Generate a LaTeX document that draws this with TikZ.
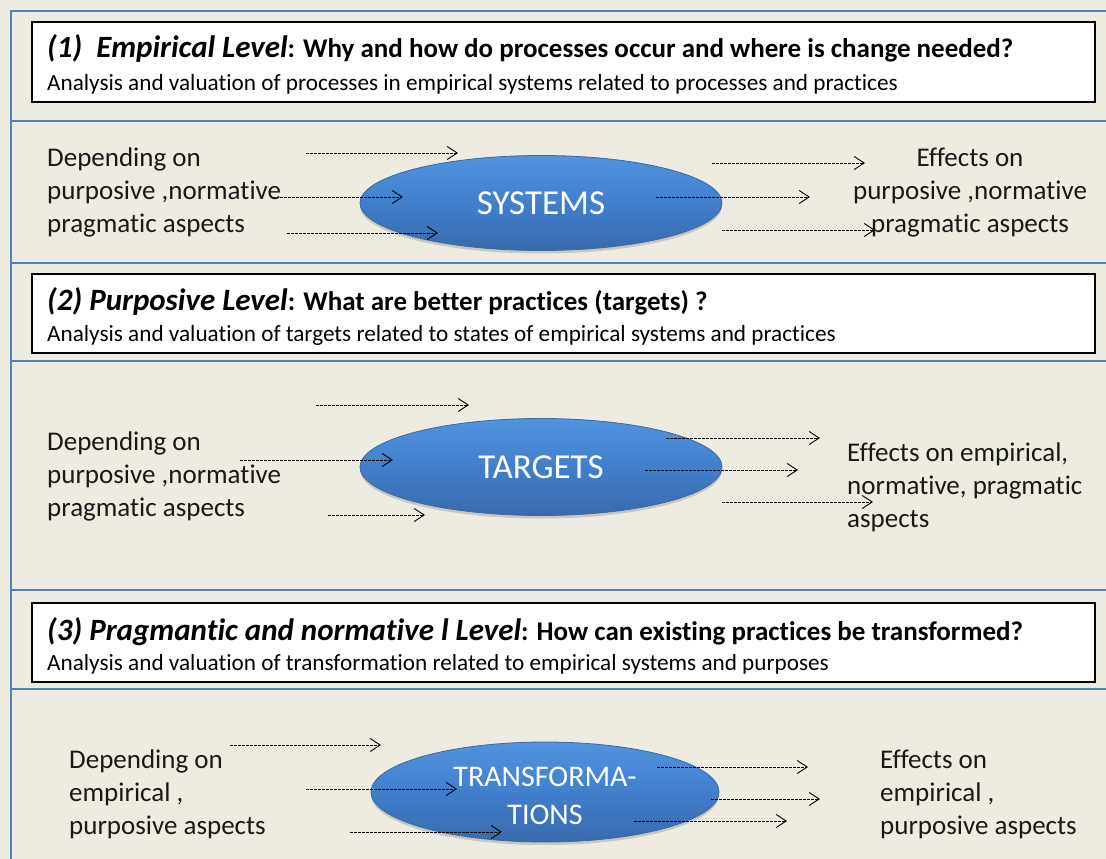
\documentclass[tikz,border=0pt]{standalone}
\usepackage{fontspec}
\setmainfont[Ligatures=NoCommon]{Carlito}
\usetikzlibrary{arrows.meta,shadows,shapes.geometric}

\definecolor{paper}{HTML}{EEECE1}
\definecolor{ruleblue}{HTML}{4F81BD}
\definecolor{ovaltop}{HTML}{5193DE}
\definecolor{ovalmid}{HTML}{417FCC}
\definecolor{ovalbot}{HTML}{386AAC}
\definecolor{ovaledge}{HTML}{3A68A8}

% italic level name at the start of each heading
\newcommand\levelname[1]{{\fontsize{31}{32}\selectfont\itshape #1}}

\tikzset{
  bandrule/.style={draw=ruleblue, line width=1.6pt},
  levelbox/.style={draw=black, line width=1.3pt, fill=white, inner sep=0pt,
    drop shadow={opacity=0.45, shadow xshift=1.2pt, shadow yshift=-1.2pt, fill=black}},
  headline/.style={anchor=base west, inner sep=0pt, font=\fontsize{27}{30}\selectfont\bfseries},
  subline/.style={anchor=base west, inner sep=0pt, font=\fontsize{23.2}{26}\selectfont},
  oval/.style={ellipse, draw=ovaledge, line width=0.8pt,
    top color=ovaltop, bottom color=ovalbot, middle color=ovalmid,
    text=white, font=\fontsize{35}{38}\selectfont, inner sep=0pt, align=center,
    drop shadow={opacity=0.35, shadow xshift=0pt, shadow yshift=-3pt}},
  ovaltext/.style={text=white, font=\fontsize{30}{38}\selectfont, inner sep=0pt, align=center},
  sidetext/.style={inner sep=0pt, font=\fontsize{27}{33}\selectfont, text=black!90},
  flow/.style={draw=black, line width=0.9pt, dash pattern=on 2.6pt off 1.4pt,
    -{Straight Barb[length=10pt,width=13pt,line width=0.9pt]}},
}

\begin{document}
\begin{tikzpicture}[x=1pt,y=-1pt]
\useasboundingbox (0,0) rectangle (1106,859);
\fill[paper] (0,0) rectangle (1106,859);

% frame and band separators
\coordinate (fb) at (11,859);
\coordinate (fc) at (11,11);
\coordinate (fr) at (1106,11);
\draw[bandrule] (fb) -- (fc) -- (fr);
\foreach \y [count=\i] in {121,263,361,590,689} {
  \coordinate (sl\i) at (11,\y);
  \coordinate (sr\i) at (1106,\y);
  \draw[bandrule] (sl\i) -- (sr\i);
}

% level boxes
\node[levelbox, minimum width=1063pt, minimum height=80pt] (box1) at (563.5,62) {};
\node[levelbox, minimum width=1063pt, minimum height=79pt] (box2) at (563.5,313.5) {};
\node[levelbox, minimum width=1063pt, minimum height=79pt] (box3) at (563.5,642.5) {};

\node[headline] (h1) at (47,58) {\levelname{(1)\ \ Empirical Level}: Why and how do processes occur and where is change needed?};
\node[subline] (s1) at (47,90) {Analysis and valuation of processes in empirical systems related to processes and practices};
\node[headline] (h2) at (47,310) {\levelname{(2) Purposive Level}: What are better practices (targets) ?};
\node[subline] (s2) at (47,341) {Analysis and valuation of targets related to states of empirical systems and practices};
\node[headline] (h3) at (47,640) {\levelname{(3) Pragmantic and normative l Level}: How can existing practices be transformed?};
\node[subline] (s3) at (47,670) {Analysis and valuation of transformation related to empirical systems and purposes};

% ovals
\node[oval, minimum width=362pt, minimum height=95pt] (systems) at (541,203) {SYSTEMS};
\node[oval, minimum width=362pt, minimum height=97pt] (targets) at (541,467) {TARGETS};
\node[oval, minimum width=348pt, minimum height=100pt] (transf) at (545,792) {};
\node[ovaltext] (transfname) at (545,796) {TRANSFORMA-\\TIONS};

% dashed influence arrows
\foreach \n/\xa/\xb/\y in {
  a1/306/458/153, a2/272/403/197, a3/287/438/233,
  a4/712/865/163, a5/656/810/197, a6/722/875/230,
  b1/316/469/405, b2/240/393/460, b3/328/425/515,
  b4/666/820/438, b5/645/798/470, b6/722/873/502,
  c1/230/381/745, c2/306/457/789, c3/350/502/832,
  c4/657/808/767, c5/711/820/799, c6/634/787/821} {
  \coordinate (\n s) at (\xa,\y);
  \coordinate (\n e) at (\xb,\y);
  \draw[flow] (\n s) -- (\n e);
}

% side labels
\node[sidetext, anchor=north west, align=left] (in1) at (47,148) {Depending on\\purposive ,normative\\pragmatic aspects};
\node[sidetext, anchor=north, align=center] (out1) at (970,148) {Effects on\\purposive ,normative\\pragmatic aspects};
\node[sidetext, anchor=north west, align=left] (in2) at (47,432) {Depending on\\purposive ,normative\\pragmatic aspects};
\node[sidetext, anchor=north west, align=left] (out2) at (847,443) {Effects on empirical,\\normative, pragmatic\\aspects};
\node[sidetext, anchor=north west, align=left] (in3) at (69,750) {Depending on\\empirical ,\\purposive aspects};
\node[sidetext, anchor=north west, align=left] (out3) at (880,750) {Effects on\\empirical ,\\purposive aspects};
\end{tikzpicture}
\end{document}
